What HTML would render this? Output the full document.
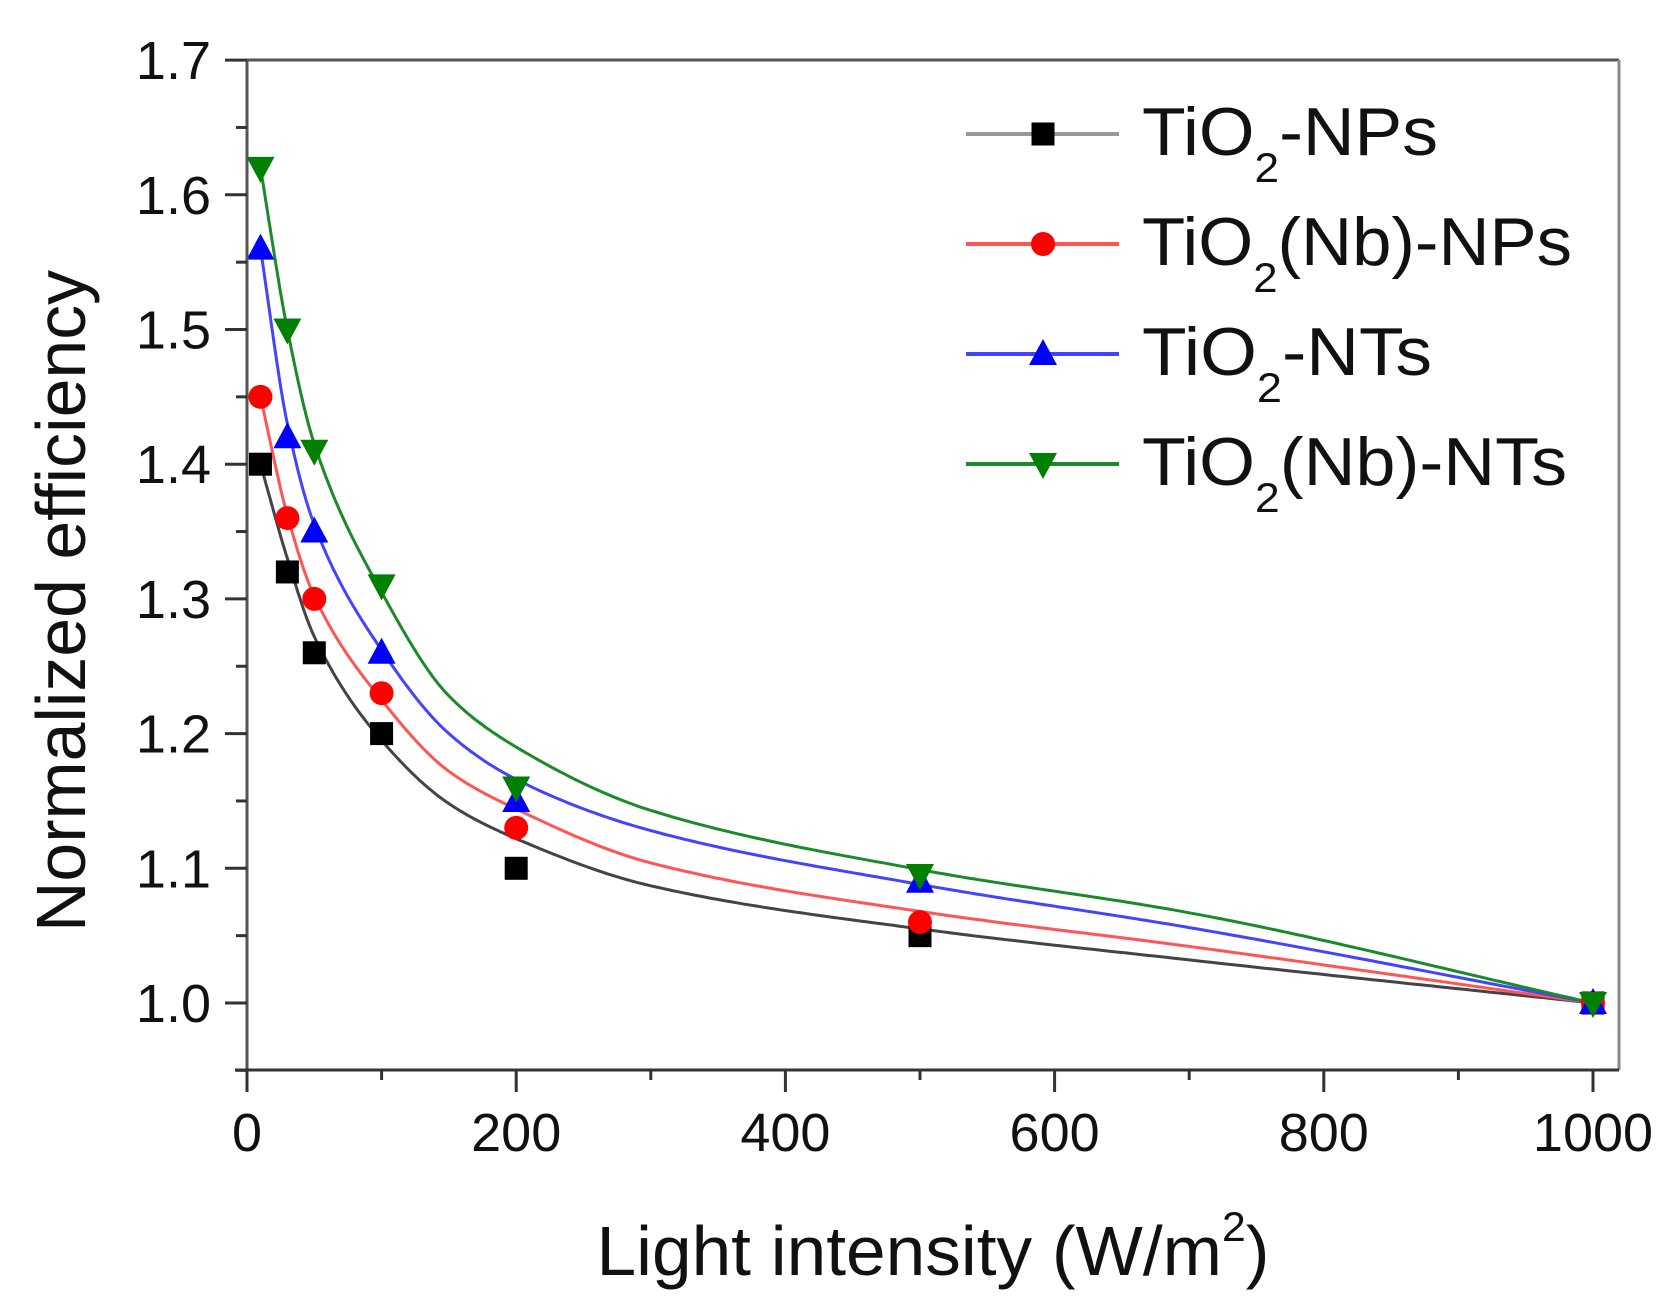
<!DOCTYPE html>
<html><head><meta charset="utf-8"><style>
html,body{margin:0;padding:0;background:#fff;}
svg{display:block;font-family:"Liberation Sans",Arial,sans-serif;}
</style></head><body>
<svg id="s" width="1678" height="1315" viewBox="0 0 1678 1315" xmlns="http://www.w3.org/2000/svg">
<rect width="1678" height="1315" fill="#fff"/>
<g id="curves"></g>
<g id="marks"></g>
<line x1="247" y1="60" x2="1619" y2="60" stroke="#555" stroke-width="3"/>
<line x1="1619" y1="60" x2="1619" y2="1070" stroke="#888" stroke-width="3"/>
<line x1="247" y1="60" x2="247" y2="1092" stroke="#555" stroke-width="3"/>
<line x1="235" y1="1070" x2="1619" y2="1070" stroke="#333" stroke-width="3"/>
<g id="ticks" stroke="#333" stroke-width="3"></g>
<g id="labels" font-size="54" fill="#111"></g>
<text x="933" y="1275" font-size="70" text-anchor="middle" textLength="673" lengthAdjust="spacingAndGlyphs" fill="#111">Light intensity (W/m<tspan font-size="42" dy="-34">2</tspan><tspan dy="34">)</tspan></text>
<text transform="translate(85,601) rotate(-90)" font-size="70" text-anchor="middle" textLength="662" lengthAdjust="spacingAndGlyphs" fill="#111">Normalized efficiency</text>
<g id="legend"></g>
</svg>
<script>
var NS="http://www.w3.org/2000/svg";
function X(v){return 247+v*1.346;}
function Y(v){return 1003-(v-1)*1347;}
function el(p,t,a,txt){var e=document.createElementNS(NS,t);for(var k in a)e.setAttribute(k,a[k]);if(txt!=null)e.textContent=txt;document.getElementById(p).appendChild(e);return e;}
for(var i=0;i<=10;i++){var x=X(i*100);el('ticks','line',{x1:x,y1:1070,x2:x,y2:1070+(i%2?10:22)});}
for(var i=0;i<=15;i++){var v=0.95+i*0.05,y=Y(v);var maj=(i%2==1);el('ticks','line',{x1:247,y1:y,x2:247-(maj?22:11),y2:y});}
for(var i=0;i<=5;i++){el('labels','text',{x:X(i*200),y:1151,'text-anchor':'middle'},String(i*200));}
for(var i=0;i<=7;i++){var v=1+i*0.1;el('labels','text',{x:211,y:Y(v)+19,'text-anchor':'end'},v.toFixed(1));}
var S=[
 {c:'#000',lc:'#444',m:'sq',pts:[1.40,1.32,1.26,1.20,1.10,1.05,1.00],
  cur:[[10,1.40],[30,1.33],[50,1.272],[100,1.195],[150,1.148],[200,1.122],[300,1.087],[500,1.055],[700,1.032],[1000,1.0]]},
 {c:'#f00',lc:'#f55',m:'ci',pts:[1.45,1.36,1.30,1.23,1.13,1.06,1.00],
  cur:[[10,1.45],[30,1.362],[50,1.302],[100,1.225],[150,1.172],[200,1.144],[300,1.104],[500,1.068],[700,1.042],[1000,1.0]]},
 {c:'#00f',lc:'#44f',m:'up',pts:[1.56,1.42,1.35,1.26,1.15,1.09,1.00],
  cur:[[10,1.56],[30,1.43],[50,1.355],[100,1.262],[150,1.200],[200,1.166],[300,1.128],[500,1.088],[700,1.056],[1000,1.0]]},
 {c:'#008000',lc:'#1a8a2a',m:'dn',pts:[1.62,1.50,1.41,1.31,1.16,1.095,1.00],
  cur:[[10,1.62],[30,1.50],[50,1.415],[100,1.305],[150,1.228],[200,1.190],[300,1.143],[500,1.099],[700,1.067],[1000,1.0]]}
];
var XS=[10,30,50,100,200,500,1000];
function mono(pts){var n=pts.length,xs=pts.map(function(p){return p[0]}),ys=pts.map(function(p){return p[1]});
 var d=[],m=[];for(var i=0;i<n-1;i++)d.push((ys[i+1]-ys[i])/(xs[i+1]-xs[i]));
 m[0]=d[0];m[n-1]=d[n-2];for(var i=1;i<n-1;i++){if(d[i-1]*d[i]<=0)m[i]=0;else{var w1=2*(xs[i+1]-xs[i])+(xs[i]-xs[i-1]),w2=(xs[i+1]-xs[i])+2*(xs[i]-xs[i-1]);m[i]=(w1+w2)/(w1/d[i-1]+w2/d[i]);}}
 return function(x){var i=0;while(i<n-2&&x>xs[i+1])i++;var h=xs[i+1]-xs[i],t=(x-xs[i])/h,t2=t*t,t3=t2*t;
  return (2*t3-3*t2+1)*ys[i]+(t3-2*t2+t)*h*m[i]+(-2*t3+3*t2)*ys[i+1]+(t3-t2)*h*m[i+1];};}
function marker(g,m,x,y,c){
 if(m=='sq')el(g,'rect',{x:x-11.5,y:y-11.5,width:23,height:23,fill:c});
 else if(m=='ci')el(g,'circle',{cx:x,cy:y,r:12,fill:c});
 else if(m=='up')el(g,'polygon',{points:(x-14)+','+(y+11)+' '+(x+14)+','+(y+11)+' '+x+','+(y-15),fill:c});
 else el(g,'polygon',{points:(x-14)+','+(y-11)+' '+(x+14)+','+(y-11)+' '+x+','+(y+15),fill:c});}
S.forEach(function(s){
 var f=mono(s.cur),d='';
 for(var x=10;x<=1000;x+=(x<200?1:4)){d+=(d?' L':'M')+X(x).toFixed(1)+','+Y(f(x)).toFixed(1);}
 d+=' L'+X(1000)+','+Y(1);
 el('curves','path',{d:d,fill:'none',stroke:s.lc,'stroke-width':3,'stroke-linejoin':'round'});
});
S.forEach(function(s){for(var i=0;i<7;i++)marker('marks',s.m,X(XS[i]),Y(s.pts[i]),s.c);});
var names=[['-NPs',296],['(Nb)-NPs',430],['-NTs',290],['(Nb)-NTs',425]];
S.forEach(function(s,i){var y=134+i*110;
 el('legend','line',{x1:966,y1:y,x2:1119,y2:y,stroke:i==0?'#999':s.lc,'stroke-width':4});
 marker('legend',s.m,1043,y,s.c);
 var t=el('legend','text',{x:1142,y:y+21,'font-size':68,fill:'#111',textLength:names[i][1],lengthAdjust:'spacingAndGlyphs'});
 t.appendChild(document.createTextNode('TiO'));
 var sb=document.createElementNS(NS,'tspan');sb.setAttribute('font-size','42');sb.setAttribute('dy','27');sb.textContent='2';t.appendChild(sb);
 var r=document.createElementNS(NS,'tspan');r.setAttribute('dy','-27');r.textContent=names[i][0];t.appendChild(r);
});
</script>
</body></html>
